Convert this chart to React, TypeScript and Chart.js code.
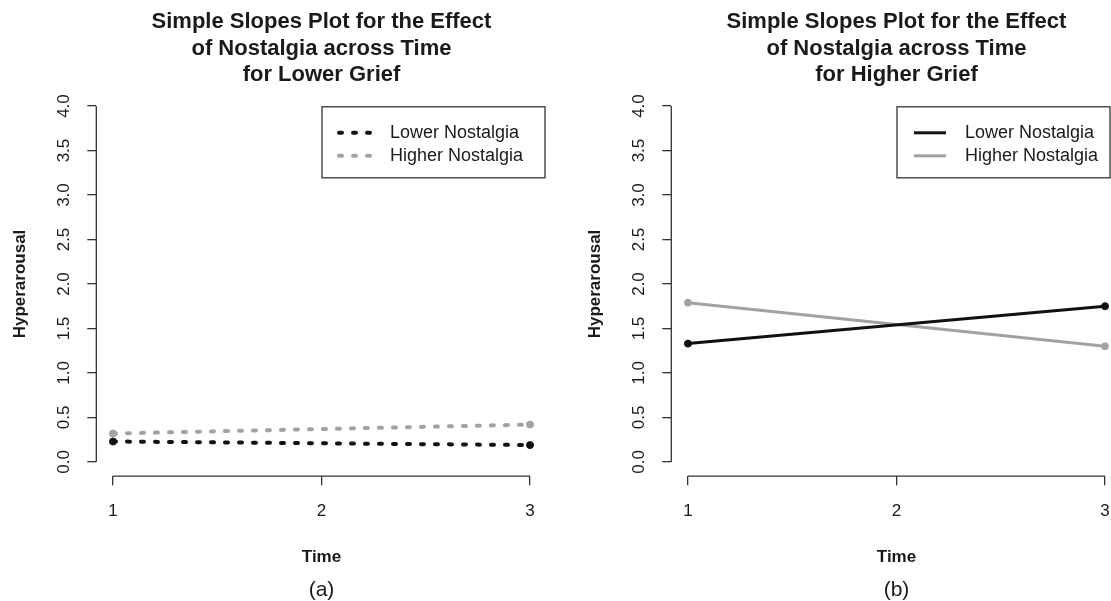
import { useEffect, useRef } from "react";
import { Chart, registerables } from "chart.js";

Chart.register(...registerables);

// ---------- data ----------
const timePoints = [1, 3];
const xTickValues = [1, 2, 3];
const yTickValues = [0, 0.5, 1, 1.5, 2, 2.5, 3, 3.5, 4];
const seriesLabels = ["Lower Nostalgia", "Higher Nostalgia"];

const lowerGriefLowerNostalgia = [0.23, 0.19];
const lowerGriefHigherNostalgia = [0.32, 0.42];
const higherGriefLowerNostalgia = [1.33, 1.75];
const higherGriefHigherNostalgia = [1.79, 1.3];

const titleLowerGrief = ["Simple Slopes Plot for the Effect", "of Nostalgia across Time", "for Lower Grief"];
const titleHigherGrief = ["Simple Slopes Plot for the Effect", "of Nostalgia across Time", "for Higher Grief"];
const panelCaptions = ["(a)", "(b)"];
const xAxisTitle = "Time";
const yAxisTitle = "Hyperarousal";

// ---------- style ----------
const FONT = "'Liberation Sans', Arial, Helvetica, sans-serif";
const TEXT = "#1a1a1a";
const AXIS = "#333333";
const BLACK = "#111111";
const GRAY = "#a2a2a2";

Chart.defaults.font.family = FONT;
Chart.defaults.color = TEXT;

const axisLinePlugin = {
  id: "axisLines",
  afterDraw(chart: any) {
    const { ctx, chartArea } = chart;
    const xs = chart.scales.x;
    const ys = chart.scales.y;
    ctx.save();
    ctx.strokeStyle = AXIS;
    ctx.lineWidth = 1.3;
    ctx.beginPath();
    ctx.moveTo(chartArea.left, ys.getPixelForValue(yTickValues[0]));
    ctx.lineTo(chartArea.left, ys.getPixelForValue(yTickValues[yTickValues.length - 1]));
    ctx.moveTo(xs.getPixelForValue(xTickValues[0]), chartArea.bottom);
    ctx.lineTo(xs.getPixelForValue(xTickValues[xTickValues.length - 1]), chartArea.bottom);
    ctx.stroke();
    ctx.restore();
  },
};

const boxLegendPlugin = {
  id: "boxLegend",
  afterDraw(chart: any, _args: any, opts: any) {
    const { ctx, chartArea } = chart;
    const left = chartArea.left + opts.offsetX;
    const top = chartArea.top + opts.offsetY;
    ctx.save();
    ctx.strokeStyle = AXIS;
    ctx.lineWidth = 1.3;
    ctx.setLineDash([]);
    ctx.strokeRect(left, top, opts.width, opts.height);
    chart.data.datasets.forEach((ds: any, i: number) => {
      const rowY = top + opts.rowStart + i * opts.rowGap;
      ctx.save();
      ctx.strokeStyle = ds.borderColor;
      ctx.lineWidth = ds.borderWidth;
      ctx.lineCap = ds.borderCapStyle || "butt";
      ctx.setLineDash(ds.borderDash || []);
      ctx.beginPath();
      ctx.moveTo(left + opts.sampleStart, rowY);
      ctx.lineTo(left + opts.sampleEnd, rowY);
      ctx.stroke();
      ctx.restore();
      ctx.fillStyle = TEXT;
      ctx.font = `${opts.fontSize}px ${FONT}`;
      ctx.textBaseline = "middle";
      ctx.textAlign = "left";
      ctx.fillText(ds.label, left + opts.textX, rowY);
    });
    ctx.restore();
  },
};

function makeDataset(label: string, values: number[], color: string, dashed: boolean) {
  return {
    label,
    data: timePoints.map((t, i) => ({ x: t, y: values[i] })),
    borderColor: color,
    backgroundColor: color,
    borderWidth: dashed ? 4 : 3,
    borderDash: dashed ? [3, 11] : [],
    borderCapStyle: dashed ? "round" : "butt",
    pointRadius: 3.5,
    pointBorderWidth: 1,
    pointBackgroundColor: color,
    pointBorderColor: color,
    tension: 0,
    clip: false,
  };
}

function buildConfig(title: string[], caption: string, datasets: any[], legendWidth: number): any {
  return {
    type: "line",
    data: { datasets },
    plugins: [axisLinePlugin, boxLegendPlugin],
    options: {
      responsive: false,
      animation: false,
      events: [],
      layout: { padding: { left: 0, right: 13.3, top: 0, bottom: 0 } },
      plugins: {
        legend: { display: false },
        tooltip: { enabled: false },
        title: {
          display: true,
          text: title,
          fullSize: false,
          color: TEXT,
          font: { size: 22, weight: "bold", lineHeight: 1.2 },
          padding: { top: 9, bottom: 3.6 },
        },
        subtitle: {
          display: true,
          position: "bottom",
          text: caption,
          fullSize: false,
          color: TEXT,
          font: { size: 21, weight: "normal", lineHeight: 1 },
          padding: { top: 0, bottom: 0 },
        },
        boxLegend: {
          offsetX: 225.7,
          offsetY: 15,
          width: legendWidth,
          height: 71,
          rowStart: 26,
          rowGap: 23,
          sampleStart: 17,
          sampleEnd: 49,
          textX: 68,
          fontSize: 18,
        },
      },
      scales: {
        x: {
          type: "linear",
          min: 0.92,
          max: 3.08,
          afterBuildTicks: (s: any) => {
            s.ticks = xTickValues.map((v) => ({ value: v }));
          },
          afterFit: (s: any) => {
            s.height = 103.8;
          },
          grid: { display: true, drawOnChartArea: false, drawTicks: true, tickLength: 9, color: AXIS, lineWidth: 1.3 },
          border: { display: false },
          ticks: {
            autoSkip: false,
            maxRotation: 0,
            padding: 15.6,
            color: TEXT,
            font: { size: 17 },
            callback: (v: any) => String(v),
          },
          title: {
            display: true,
            text: xAxisTitle,
            color: TEXT,
            font: { size: 17, weight: "bold" },
            padding: { top: 0, bottom: 12.8 },
          },
        },
        y: {
          type: "linear",
          min: -0.16,
          max: 4.16,
          afterBuildTicks: (s: any) => {
            s.ticks = yTickValues.map((v) => ({ value: v }));
          },
          afterFit: (s: any) => {
            s.width = 96.3;
          },
          grid: { display: true, drawOnChartArea: false, drawTicks: true, tickLength: 9, color: AXIS, lineWidth: 1.3 },
          border: { display: false },
          ticks: {
            autoSkip: false,
            minRotation: 90,
            maxRotation: 90,
            crossAlign: "center",
            padding: 10.7,
            color: TEXT,
            font: { size: 17 },
            callback: (v: any) => Number(v).toFixed(1),
          },
          title: {
            display: true,
            text: yAxisTitle,
            color: TEXT,
            font: { size: 17, weight: "bold" },
            padding: { top: 9.8, bottom: 0 },
          },
        },
      },
    },
  };
}

export default function App() {
  const leftRef = useRef<HTMLCanvasElement>(null);
  const rightRef = useRef<HTMLCanvasElement>(null);

  useEffect(() => {
    const left = new Chart(
      leftRef.current as HTMLCanvasElement,
      buildConfig(
        titleLowerGrief,
        panelCaptions[0],
        [
          makeDataset(seriesLabels[0], lowerGriefLowerNostalgia, BLACK, true),
          makeDataset(seriesLabels[1], lowerGriefHigherNostalgia, GRAY, true),
        ],
        223
      )
    );
    const right = new Chart(
      rightRef.current as HTMLCanvasElement,
      buildConfig(
        titleHigherGrief,
        panelCaptions[1],
        [
          makeDataset(seriesLabels[0], higherGriefLowerNostalgia, BLACK, false),
          makeDataset(seriesLabels[1], higherGriefHigherNostalgia, GRAY, false),
        ],
        213
      )
    );
    return () => {
      left.destroy();
      right.destroy();
    };
  }, []);

  return (
    <div
      style={{
        position: "fixed",
        left: 0,
        top: 0,
        width: 1111,
        height: 601,
        overflow: "hidden",
        background: "#ffffff",
      }}
    >
      <canvas ref={leftRef} width={560} height={601} style={{ position: "absolute", left: 0, top: 0 }} />
      <canvas ref={rightRef} width={560} height={601} style={{ position: "absolute", left: 575, top: 0 }} />
    </div>
  );
}
